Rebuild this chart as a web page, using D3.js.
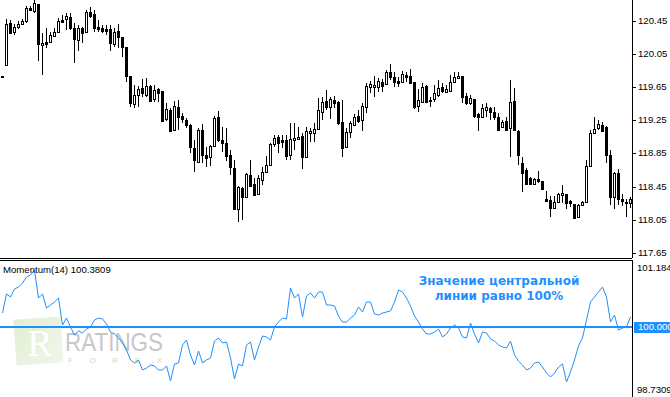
<!DOCTYPE html>
<html><head><meta charset="utf-8">
<script src="https://cdn.jsdelivr.net/npm/d3@7"></script>
<style>html,body{margin:0;padding:0;background:#fff;overflow:hidden}</style>
</head><body><svg id="c" width="670" height="397"></svg>
<script>
const openP = [119.786,119.919,120.426,120.317,120.378,120.414,120.450,120.607,120.571,120.656,120.160,120.196,120.196,120.269,120.317,120.462,120.474,120.499,120.366,120.221,120.366,120.317,120.559,120.535,120.378,120.366,120.354,120.354,120.172,120.329,120.257,120.136,119.786,119.447,119.556,119.641,119.556,119.665,119.508,119.628,119.604,119.266,119.375,119.133,119.411,119.302,119.254,119.193,118.916,118.746,119.133,118.831,118.807,118.940,119.290,119.012,118.976,118.831,118.674,118.178,118.432,118.323,118.589,118.480,118.360,118.529,118.625,118.710,118.964,119.048,119.012,119.012,118.831,119.012,119.024,119.061,118.807,119.097,119.097,119.145,119.351,119.483,119.411,119.496,119.471,119.230,118.928,119.109,119.193,119.302,119.254,119.411,119.653,119.653,119.653,119.713,119.689,119.834,119.773,119.725,119.713,119.798,119.786,119.713,119.423,119.471,119.665,119.496,119.508,119.556,119.653,119.592,119.604,119.713,119.761,119.786,119.544,119.459,119.508,119.326,119.290,119.375,119.399,119.351,119.290,119.169,119.242,119.157,119.483,119.121,118.734,118.650,118.553,118.480,118.541,118.517,118.299,118.287,118.190,118.263,118.347,118.360,118.275,118.239,118.082,118.227,118.263,118.698,119.097,119.157,119.193,119.169,118.831,118.323,118.613,118.299,118.263,118.251];
const highP = [119.786,120.474,120.462,120.414,120.450,120.474,120.631,120.631,120.704,120.656,120.305,120.366,120.317,120.366,120.487,120.523,120.547,120.547,120.426,120.402,120.378,120.583,120.619,120.583,120.462,120.402,120.402,120.402,120.366,120.414,120.257,120.136,119.786,119.677,119.665,119.749,119.761,119.677,119.677,119.641,119.604,119.459,119.399,119.483,119.496,119.338,119.278,119.206,119.012,119.157,119.206,118.928,118.952,119.302,119.363,119.169,119.157,118.891,118.770,118.456,118.444,118.613,118.770,118.553,118.589,118.686,118.819,118.976,119.073,119.073,119.073,119.073,119.218,119.218,119.169,119.097,119.169,119.157,119.218,119.520,119.532,119.616,119.532,119.544,119.483,119.496,119.157,119.242,119.326,119.375,119.459,119.701,119.725,119.786,119.761,119.749,119.858,119.931,119.834,119.773,119.846,119.834,119.870,119.713,119.628,119.701,119.677,119.532,119.677,119.737,119.701,119.677,119.798,119.834,119.834,119.786,119.580,119.556,119.508,119.338,119.447,119.459,119.411,119.411,119.338,119.254,119.290,119.737,119.641,119.133,118.807,118.674,118.565,118.553,118.638,118.517,118.396,118.335,118.335,118.372,118.468,118.360,118.287,118.239,118.239,118.275,118.770,119.133,119.290,119.254,119.230,119.181,118.891,118.625,118.662,118.360,118.299,118.323];
const lowP = [119.780,119.919,120.293,120.281,120.354,120.402,120.426,120.571,120.547,119.967,119.798,120.124,120.184,120.257,120.305,120.426,120.341,120.341,119.943,120.088,120.184,120.305,120.487,120.317,120.317,120.305,120.281,120.088,120.136,120.124,120.015,119.713,119.411,119.399,119.411,119.532,119.532,119.471,119.471,119.471,119.230,119.242,119.109,119.121,119.133,119.218,119.157,118.855,118.625,118.734,118.734,118.686,118.698,118.928,118.988,118.867,118.758,118.589,118.166,118.021,118.045,118.311,118.444,118.335,118.347,118.468,118.613,118.698,118.928,118.855,118.916,118.770,118.770,118.891,119.012,118.662,118.795,118.988,118.988,119.133,119.254,119.375,119.266,119.399,119.193,118.807,118.916,119.036,119.181,119.218,119.121,119.338,119.580,119.532,119.592,119.592,119.677,119.737,119.653,119.653,119.701,119.713,119.689,119.387,119.351,119.459,119.459,119.411,119.471,119.532,119.580,119.592,119.592,119.701,119.749,119.459,119.435,119.435,119.278,119.121,119.278,119.290,119.254,119.254,119.121,119.157,119.121,118.807,119.121,118.710,118.384,118.468,118.468,118.468,118.492,118.408,118.263,118.082,118.178,118.251,118.251,118.178,118.202,118.058,118.070,118.215,118.251,118.686,119.085,119.133,119.121,118.734,118.227,118.178,118.227,118.215,118.082,118.190];
const closeP = [119.780,120.414,120.305,120.378,120.414,120.450,120.607,120.583,120.668,120.172,120.184,120.172,120.281,120.317,120.450,120.438,120.511,120.366,120.233,120.366,120.305,120.559,120.511,120.366,120.354,120.329,120.329,120.184,120.317,120.257,120.136,119.786,119.459,119.556,119.628,119.580,119.665,119.483,119.616,119.580,119.242,119.387,119.121,119.423,119.290,119.266,119.193,118.928,118.770,119.133,118.831,118.795,118.940,119.278,119.012,118.976,118.819,118.686,118.178,118.444,118.323,118.601,118.456,118.347,118.553,118.625,118.710,118.964,119.036,118.976,118.988,118.819,119.024,119.036,119.048,118.807,119.121,119.121,119.145,119.375,119.471,119.411,119.508,119.459,119.218,118.916,119.109,119.218,119.290,119.242,119.423,119.665,119.689,119.677,119.725,119.665,119.834,119.773,119.713,119.701,119.810,119.773,119.701,119.411,119.496,119.653,119.471,119.483,119.580,119.641,119.604,119.628,119.713,119.773,119.786,119.532,119.459,119.520,119.302,119.290,119.399,119.411,119.351,119.290,119.133,119.230,119.133,119.471,119.133,118.831,118.613,118.480,118.480,118.541,118.517,118.420,118.275,118.190,118.263,118.360,118.372,118.251,118.251,118.070,118.227,118.263,118.698,119.097,119.145,119.206,119.121,118.831,118.323,118.613,118.299,118.275,118.251,118.299];
const momentum = [100.279,100.662,100.601,100.762,100.802,100.883,101.004,101.044,101.144,100.581,100.662,100.380,100.440,100.501,100.581,100.038,100.179,99.998,99.837,99.917,99.877,99.958,99.998,100.139,100.179,100.159,100.058,99.897,99.857,99.777,99.676,99.535,99.334,99.274,99.334,99.133,99.173,99.234,99.214,99.133,99.133,99.214,98.912,99.254,99.274,99.636,99.736,99.435,99.234,99.515,99.274,99.334,99.374,99.716,99.777,99.676,99.696,99.374,98.952,99.254,99.214,99.636,99.696,99.334,99.596,99.817,99.797,99.736,99.998,100.098,100.179,100.159,100.782,100.581,100.662,100.199,100.621,100.682,100.581,100.702,100.702,100.440,100.440,100.420,100.219,100.098,100.098,100.179,100.239,100.400,100.300,100.501,100.501,100.259,100.239,100.279,100.300,100.320,100.501,100.742,100.702,100.581,100.420,100.219,100.098,99.958,99.857,99.857,99.897,99.958,99.797,99.857,99.978,100.038,99.978,99.797,99.777,100.078,99.857,99.676,99.897,99.877,99.757,99.716,99.636,99.596,99.575,99.716,99.435,99.314,99.234,99.133,99.173,99.274,99.294,99.193,99.073,98.992,99.073,99.193,99.254,98.892,99.093,99.334,99.616,99.777,100.139,100.501,100.601,100.702,100.802,100.601,100.098,100.239,99.938,99.978,99.998,100.199];
const priceTicks = ["120.45","120.05","119.65","119.25","118.85","118.45","118.05","117.65"];
const momScaleLabels = ["101.1845","98.7309"];
const levelValue = "100.0000";
const indicatorLabel = "Momentum(14) 100.3809";
const noteLines = ["Значение центральной","линии равно 100%"];

const svg = d3.select("#c");
const N = closeP.length;
const axisX = 632;
const x = d3.scalePoint().domain(d3.range(N)).range([2, 630]);
const yP = d3.scaleLinear().domain([117.65, 120.45]).range([252.7, 21]);
const yM = d3.scaleLinear().domain([+momScaleLabels[1], +momScaleLabels[0]]).range([390, 268]);
const blue = "#1e90ff";
const font = "'Liberation Sans', Arial, sans-serif";

// watermark
const wm = svg.append("g").attr("opacity", 0.55);
const grad = svg.append("defs").append("linearGradient").attr("id","wg").attr("x1","0").attr("y1","0").attr("x2","1").attr("y2","1");
grad.append("stop").attr("offset","0").attr("stop-color","#c9e2b0");
grad.append("stop").attr("offset","1").attr("stop-color","#e6f0d8");
wm.append("rect").attr("x",15).attr("y",318).attr("width",47).attr("height",46)
  .attr("fill","url(#wg)").attr("transform","rotate(-4 38 341)");
wm.append("text").attr("x",40).attr("y",356).attr("text-anchor","middle")
  .attr("font-family","'Liberation Serif', serif").attr("font-size",38).attr("fill","#fff").text("R");
wm.append("text").attr("x",65).attr("y",351).attr("font-family","'Liberation Sans Narrow','Liberation Sans',sans-serif")
  .attr("font-size",26).attr("fill","#9a9a9a").attr("textLength",98).attr("lengthAdjust","spacingAndGlyphs").text("RATINGS");
wm.append("text").attr("x",68).attr("y",363).attr("font-family",font)
  .attr("font-size",8).attr("fill","#a3bb8d").attr("textLength",94).attr("lengthAdjust","spacing").text("FOREX");

// frames
const frame = svg.append("g").attr("shape-rendering","crispEdges").attr("stroke","#000");
frame.append("line").attr("x1",0).attr("x2",axisX).attr("y1",258.5).attr("y2",258.5);
frame.append("line").attr("x1",0).attr("x2",axisX).attr("y1",260.5).attr("y2",260.5);
frame.append("line").attr("x1",axisX+0.5).attr("x2",axisX+0.5).attr("y1",0).attr("y2",258);
frame.append("line").attr("x1",axisX+0.5).attr("x2",axisX+0.5).attr("y1",260).attr("y2",397);

// price axis
const ax = svg.append("g");
priceTicks.forEach(t => {
  const yy = Math.round(yP(+t));
  ax.append("rect").attr("x",axisX).attr("y",yy).attr("width",4).attr("height",1).attr("fill","#000").attr("shape-rendering","crispEdges");
  ax.append("text").attr("x",638).attr("y",yy).attr("dy","0.35em").attr("font-family",font).attr("font-size",9.6).attr("fill","#000").text(t);
});

// candles
const cg = svg.append("g").attr("shape-rendering","crispEdges");
d3.range(N).forEach(i => {
  const c = Math.round(x(i));
  const o = openP[i], cl = closeP[i];
  const hi = Math.round(yP(highP[i])), lo = Math.round(yP(lowP[i]));
  const top = Math.round(yP(Math.max(o, cl))), bot = Math.round(yP(Math.min(o, cl)));
  cg.append("rect").attr("x",c).attr("y",hi).attr("width",1).attr("height",Math.max(lo-hi,1)).attr("fill","#000");
  if (cl > o) {
    const h = Math.max(bot-top, 2);
    cg.append("rect").attr("x",c-1).attr("y",top).attr("width",3).attr("height",h+1).attr("fill","#000");
    if (h-1 > 0) cg.append("rect").attr("x",c).attr("y",top+1).attr("width",1).attr("height",h-1).attr("fill","#fff");
  } else {
    cg.append("rect").attr("x",c-1).attr("y",top).attr("width",3).attr("height",Math.max(bot-top,1)+1).attr("fill","#000");
  }
});

// momentum level line
svg.append("line").attr("x1",0).attr("x2",axisX).attr("y1",yM(100)).attr("y2",yM(100))
  .attr("stroke",blue).attr("stroke-width",2);
// momentum line
svg.append("path").datum(momentum)
  .attr("d", d3.line().x((d,i)=>x(i)+0.5).y(d=>yM(d)))
  .attr("fill","none").attr("stroke",blue).attr("stroke-width",1);

// momentum labels
svg.append("text").attr("x",3).attr("y",270).attr("dy","0.35em").attr("font-family",font).attr("font-size",9.6).attr("fill","#000").text(indicatorLabel);
momScaleLabels.forEach(t => {
  svg.append("text").attr("x",637).attr("y",yM(+t)).attr("dy","0.35em").attr("font-family",font).attr("font-size",9.6).attr("fill","#000").text(t);
});
svg.append("rect").attr("x",634).attr("y",Math.round(yM(100))-5).attr("width",36).attr("height",11).attr("fill",blue);
svg.append("text").attr("x",638).attr("y",yM(100)).attr("dy","0.35em").attr("font-family",font).attr("font-size",9.6).attr("fill","#fff").text(levelValue);

// annotation
noteLines.forEach((t,k) => {
  svg.append("text").attr("x",499).attr("y",[281,296][k]).attr("dy","0.35em").attr("text-anchor","middle")
    .attr("font-family","'DejaVu Sans', Verdana, sans-serif").attr("font-weight","bold").attr("font-size",12)
    .attr("fill",blue).text(t);
});
</script></body></html>
